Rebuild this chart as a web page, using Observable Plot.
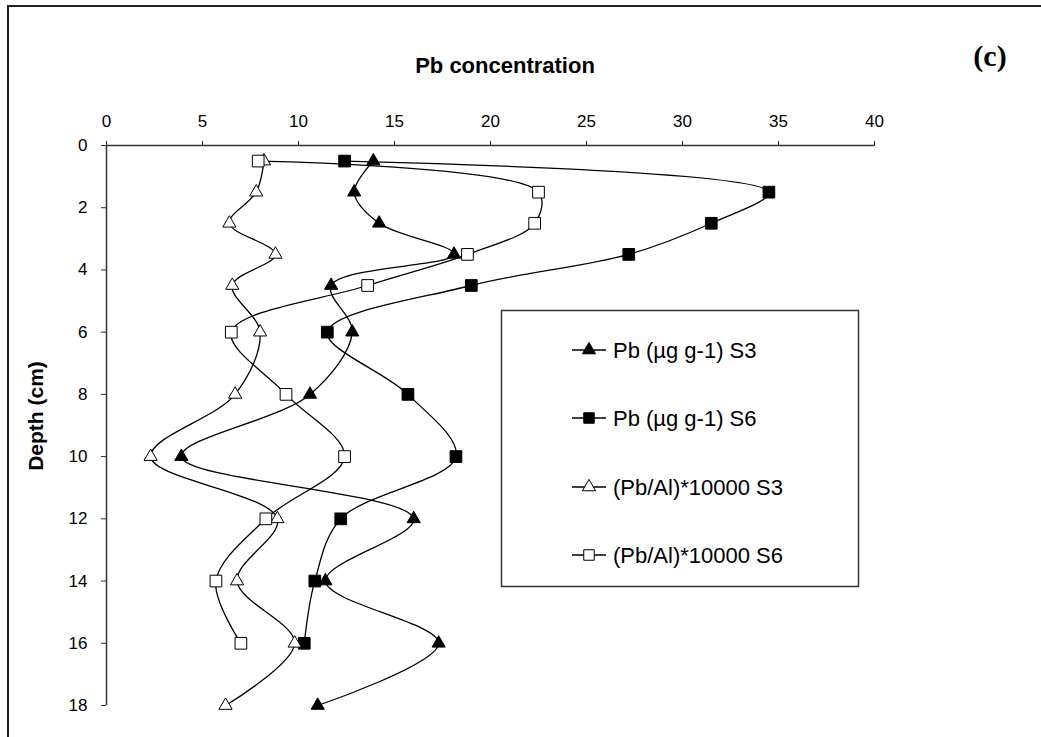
<!DOCTYPE html>
<html>
<head>
<meta charset="utf-8">
<script src="https://cdn.jsdelivr.net/npm/d3@7"></script>
<script src="https://cdn.jsdelivr.net/npm/@observablehq/plot@0.6"></script>
<style>
  html, body { margin: 0; padding: 0; background: #fff; overflow: hidden; }
  #wrap { position: relative; width: 1041px; height: 737px; overflow: hidden; background: #fff; }
  #frame { position: absolute; left: 7px; top: 5px; width: 1100px; height: 800px; border: 2px solid #222; box-sizing: border-box; }
  #plot, #overlay { position: absolute; left: 0; top: 0; }
</style>
</head>
<body>
<div id="wrap">
  <div id="frame"></div>
  <div id="plot"></div>
  <svg id="overlay" width="1041" height="737"></svg>
</div>
<script>
// ---- data ----
const depth   = [0.5, 1.5, 2.5, 3.5, 4.5, 6, 8, 10, 12, 14, 16, 18];
const pbS3    = [13.9, 12.9, 14.2, 18.1, 11.7, 12.8, 10.6, 3.9, 16.0, 11.4, 17.3, 11.0];
const pbS6    = [12.4, 34.5, 31.5, 27.2, 19.0, 11.5, 15.7, 18.2, 12.2, 10.85, 10.3, null];
const ratioS3 = [8.2, 7.8, 6.4, 8.8, 6.55, 8.0, 6.7, 2.3, 8.9, 6.8, 9.8, 6.2];
const ratioS6 = [7.9, 22.5, 22.3, 18.8, 13.6, 6.5, 9.35, 12.4, 8.3, 5.7, 7.0, null];
const seriesNames = ["Pb (µg g-1) S3", "Pb (µg g-1) S6", "(Pb/Al)*10000 S3", "(Pb/Al)*10000 S6"];
const xTicks = [0, 5, 10, 15, 20, 25, 30, 35, 40];
const yTicks = [0, 2, 4, 6, 8, 10, 12, 14, 16, 18];
const xTitle = "Pb concentration";
const yTitle = "Depth (cm)";
const panelTag = "(c)";

const seriesValues = [pbS3, pbS6, ratioS3, ratioS6];
const symbols = ["triangle", "square", "triangle", "square"];
const fills = ["black", "black", "white", "white"];

const rows = [];
seriesValues.forEach((vals, si) => {
  vals.forEach((v, i) => {
    if (v != null) rows.push({series: seriesNames[si], idx: si, depth: depth[i], value: v});
  });
});

const marks = [
  Plot.ruleY([0], {stroke: "#333", strokeWidth: 1.5}),
  Plot.ruleX([0], {stroke: "#333", strokeWidth: 1.5}),
  Plot.axisX({anchor: "top", ticks: xTicks, tickSize: 5, tickPadding: 14, label: null, stroke: "#333", fill: "black"}),
  Plot.axisY({anchor: "left", ticks: yTicks, tickSize: 5, tickPadding: 14, label: null, stroke: "#333", fill: "black"})
];
seriesNames.forEach((name, si) => {
  const data = rows.filter(d => d.idx === si);
  marks.push(Plot.line(data, {x: "value", y: "depth", curve: "catmull-rom", stroke: "black", strokeWidth: 1.3}));
});
seriesNames.forEach((name, si) => {
  const data = rows.filter(d => d.idx === si);
  marks.push(Plot.dot(data, {
    x: "value", y: "depth", symbol: symbols[si],
    r: symbols[si] === "square" ? 6.6 : 4.9,
    fill: fills[si], stroke: "black", strokeWidth: 1
  }));
});

const chart = Plot.plot({
  width: 1041,
  height: 737,
  marginLeft: 106,
  marginRight: 167,
  marginTop: 145,
  marginBottom: 32,
  x: {domain: [0, 40]},
  y: {domain: [0, 18], reverse: true},
  style: {fontFamily: "'Liberation Sans', Arial, sans-serif", fontSize: "17px", color: "black", background: "transparent", overflow: "visible"},
  marks
});
document.getElementById("plot").appendChild(chart);

// ---- titles and legend ----
const ov = d3.select("#overlay");
ov.append("text").attr("x", 505).attr("y", 73).attr("text-anchor", "middle")
  .style("font-family", "'Liberation Sans', Arial, sans-serif").style("font-weight", "bold").style("font-size", "22px")
  .text(xTitle);
ov.append("text").attr("transform", "translate(43,416) rotate(-90)").attr("text-anchor", "middle")
  .style("font-family", "'Liberation Sans', Arial, sans-serif").style("font-weight", "bold").style("font-size", "21px")
  .text(yTitle);
ov.append("text").attr("x", 990).attr("y", 66).attr("text-anchor", "middle")
  .style("font-family", "'Liberation Serif', 'Times New Roman', serif").style("font-weight", "bold").style("font-size", "30px")
  .text(panelTag);

ov.append("rect").attr("x", 501.5).attr("y", 310.5).attr("width", 357).attr("height", 276)
  .attr("fill", "white").attr("stroke", "#333").attr("stroke-width", 1.5);
const rowY = [350, 418, 487, 555];
seriesNames.forEach((name, si) => {
  const y = rowY[si];
  ov.append("line").attr("x1", 572).attr("x2", 606).attr("y1", y).attr("y2", y).attr("stroke", "black").attr("stroke-width", 1.3);
  const sym = symbols[si] === "square" ? d3.symbolSquare : d3.symbolTriangle;
  const size = symbols[si] === "square" ? 110 : 75;
  ov.append("path").attr("d", d3.symbol(sym, size)()).attr("transform", `translate(589,${y})`)
    .attr("fill", fills[si]).attr("stroke", "black").attr("stroke-width", 1);
  ov.append("text").attr("x", 613).attr("y", y + 8)
    .style("font-family", "'Liberation Sans', Arial, sans-serif").style("font-size", "22px")
    .text(name);
});
</script>
</body>
</html>
